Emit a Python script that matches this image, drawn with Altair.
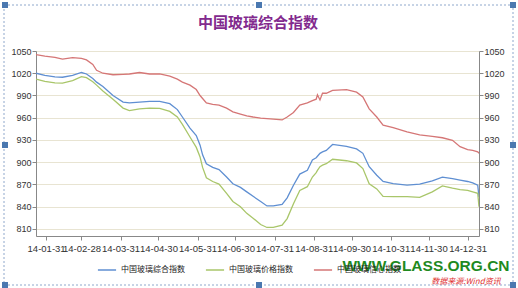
import altair as alt
import pandas as pd

dates = ["2014-01-23","2014-01-30","2014-02-07","2014-02-13","2014-02-21","2014-02-28","2014-03-04",
         "2014-03-09","2014-03-12","2014-03-17","2014-03-25","2014-04-02","2014-04-07","2014-04-15",
         "2014-04-23","2014-05-01","2014-05-09","2014-05-15","2014-05-19","2014-05-25","2014-05-30",
         "2014-06-02","2014-06-04","2014-06-07","2014-06-12","2014-06-17","2014-06-23","2014-06-28",
         "2014-07-04","2014-07-09","2014-07-14","2014-07-20","2014-07-25","2014-07-30","2014-08-06",
         "2014-08-10","2014-08-15","2014-08-20","2014-08-26","2014-08-30","2014-09-02","2014-09-03",
         "2014-09-05","2014-09-07","2014-09-10","2014-09-15","2014-09-26","2014-10-04","2014-10-09",
         "2014-10-14","2014-10-20","2014-10-25","2014-11-02","2014-11-13","2014-11-23","2014-12-03",
         "2014-12-11","2014-12-19","2014-12-25","2014-12-31","2015-01-04","2015-01-08","2015-01-09"]

composite = [1020,1017,1015,1014.6,1017,1021,1019,1013,1008,1002,990,981,980,981,982,982,979,971,961,
             946,936,923,910,898,893,890,880,871,866,860,854,847,841,841,843,852,869,884,889,903,906,
             908,912,914,916,924,921.5,918,912,894,882.5,874,871,869,870.5,875,880,878,876,874,872,869,853]

price = [1012,1009,1007,1006.6,1010,1015.5,1014,1008.5,1004,996,985,973,969.5,972,973,972.5,968.5,961,
         951,934,920,907,893,879,874,870.5,858,847,840,831,824.5,816,812,812,815,824,844,862,867,880,
         886,889,894,896,898,904,902,899,891.5,871,864,854,853.5,853.5,852.5,860,868,865,863,862,860,858,840]

confidence = [1045,1043,1041.5,1039,1041,1040,1038,1032,1024,1020,1018,1018.5,1019,1021,1019,1019,1016,
              1012,1008,1004,998,990,986,980,978,977,973,968,965,962.5,961,959.5,958.7,958,957,961,967,
              977,980,983,985,991,984,993,993,997,998,994.5,988,972,961,950,946.6,941,937,935,933,929.5,
              921,917,916,914,912]

names = ["中国玻璃综合指数", "中国玻璃价格指数", "中国玻璃信心指数"]
colors = ["#5f8fd2", "#a9c66a", "#d57676"]
y_ticks = [810, 840, 870, 900, 930, 960, 990, 1020, 1050]
x_ticks = [(2014, m, d) for m, d in [(1,31),(2,28),(3,31),(4,30),(5,31),(6,30),(7,31),(8,31),(9,30),(10,31),(11,30),(12,31)]]

df = pd.DataFrame({"date": dates, names[0]: composite, names[1]: price, names[2]: confidence})
long = df.melt("date", var_name="series", value_name="value")

font = "Liberation Sans"
cjk = "Noto Sans CJK SC"

xscale = alt.Scale(type="utc", domain=[alt.DateTime(year=2014, month=1, date=23, utc=True),
                                       alt.DateTime(year=2015, month=1, date=9, utc=True)])
yscale = alt.Scale(domain=[800.5, 1050], nice=False, zero=False)

xaxis = alt.Axis(values=[alt.DateTime(year=y, month=m, date=d, utc=True) for y, m, d in x_ticks],
                 labelExpr="utcFormat(datum.value, '%y-%m-%d')", title=None, grid=False, labelOverlap=False,
                 labelFont=font, labelFontSize=9.5, labelColor="#333333", domainColor="#888888",
                 tickColor="#888888", tickSize=4, labelPadding=3)

def yaxis(orient, grid):
    return alt.Axis(values=y_ticks, format="d", title=None, orient=orient, grid=grid, gridColor="#e8e4d2",
                    labelFont=font, labelFontSize=9, labelColor="#333333",
                    domainColor="#888888", tickColor="#888888", tickSize=4, labelPadding=1)

lines = alt.Chart(long).mark_line(strokeWidth=1.3, clip=True).encode(
    x=alt.X("date:T", scale=xscale, axis=xaxis),
    y=alt.Y("value:Q", scale=yscale, axis=yaxis("left", True)),
    color=alt.Color("series:N", sort=names, scale=alt.Scale(domain=names, range=colors),
                    legend=alt.Legend(title=None, orient="none", direction="horizontal",
                                      legendX=61, legendY=209, symbolType="stroke", symbolSize=330,
                                      symbolStrokeWidth=1.5, labelFont=cjk, labelFontSize=8,
                                      labelColor="#222222", columnPadding=17, labelOffset=4)),
)

right = alt.Chart(long).mark_line(opacity=0).encode(
    x=alt.X("date:T", scale=xscale, axis=xaxis),
    y=alt.Y("value:Q", scale=yscale, axis=yaxis("right", False)),
)

one = alt.Data(values=[{}])
title = alt.Chart(one).mark_text(text="中国玻璃综合指数", font=cjk, fontSize=15, fontWeight="bold",
                                 color="#822a8e").encode(x=alt.value(222), y=alt.value(-28))
watermark = alt.Chart(one).mark_text(text="WWW.GLASS.ORG.CN", font=font, fontSize=15.5,
                                     fontWeight="bold", color="#1f8a1f").encode(
    x=alt.value(390), y=alt.value(215))
source = alt.Chart(one).mark_text(text="数据来源:Wind资讯", font=cjk, fontSize=8,
                                  fontStyle="italic", color="#e03030").encode(
    x=alt.value(430), y=alt.value(231))
border = alt.Chart(one).mark_rect(fill=None, stroke="#8fa8cc", strokeDash=[2, 2], strokeWidth=1).encode(
    x=alt.value(-32), x2=alt.value(477), y=alt.value(-46), y2=alt.value(234))
handles = [alt.Chart(one).mark_square(size=36, color="#4a78b0", opacity=1).encode(
    x=alt.value(hx), y=alt.value(hy))
    for hx, hy in [(-31, -46), (223, -46), (477, -46), (-31, 94), (477, 94), (-31, 234), (223, 234), (477, 234)]]

chart = alt.layer(border, lines, right, title, watermark, source, *handles).resolve_axis(y="independent").properties(
    width=443, height=185,
    padding={"left": 36, "top": 51, "right": 39, "bottom": 52},
    autosize=alt.AutoSizeParams(type="none"),
).configure_view(stroke=None).configure(background="white")

chart.save("out.html", embed_options={"renderer": "svg", "actions": False})
